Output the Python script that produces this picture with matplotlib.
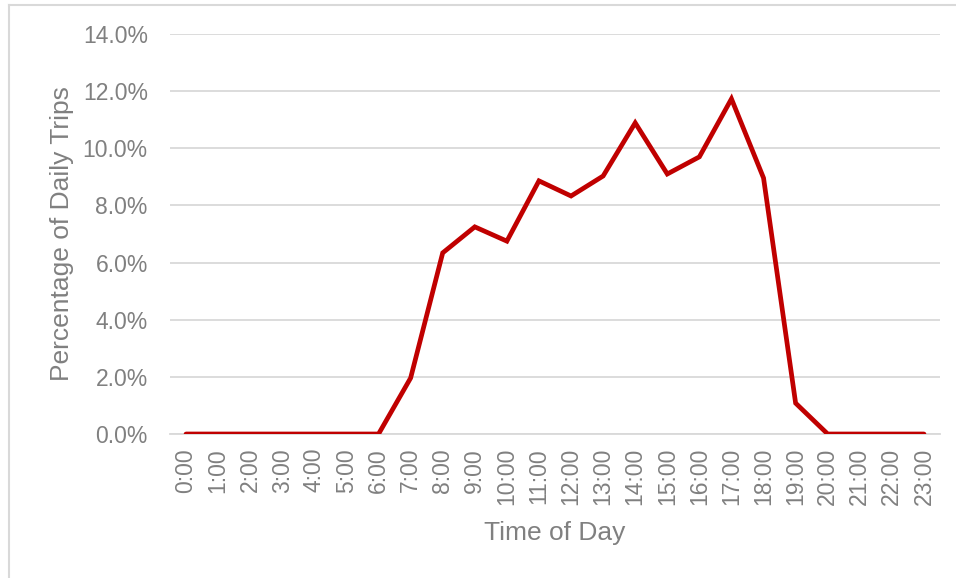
import matplotlib
matplotlib.use("Agg")
import matplotlib.pyplot as plt
from matplotlib.lines import Line2D
from matplotlib.ticker import FuncFormatter

# Share of daily trips by hour of day
hours = ["0:00", "1:00", "2:00", "3:00", "4:00", "5:00", "6:00", "7:00",
         "8:00", "9:00", "10:00", "11:00", "12:00", "13:00", "14:00", "15:00",
         "16:00", "17:00", "18:00", "19:00", "20:00", "21:00", "22:00", "23:00"]
trip_pct = [0.0, 0.0, 0.0, 0.0, 0.0, 0.0, 0.0, 1.96,
            6.34, 7.25, 6.75, 8.86, 8.33, 9.03, 10.89, 9.10,
            9.70, 11.73, 8.96, 1.08, 0.0, 0.0, 0.0, 0.0]
y_ticks = [0, 2, 4, 6, 8, 10, 12, 14]

grey = "#808080"
grid = "#d9d9d9"

plt.rcParams["font.family"] = ["Liberation Sans", "DejaVu Sans"]

fig = plt.figure(figsize=(9.56, 5.78), dpi=100)
ax = fig.add_axes([170 / 956, 1 - 434 / 578, 770 / 956, 400 / 578])

x = list(range(len(hours)))
ax.plot(x, trip_pct, color="#c00000", linewidth=3.4,
        solid_capstyle="round", solid_joinstyle="miter", zorder=3)

ax.set_xlim(-0.5, len(hours) - 0.5)
ax.set_ylim(0, 14)
ax.set_yticks(y_ticks)
ax.yaxis.set_major_formatter(FuncFormatter(lambda v, p: "%.1f%%" % v))
ax.set_xticks(x)
ax.set_xticklabels(hours, rotation=90)

ax.grid(axis="y", color=grid, linewidth=1.3)
ax.set_axisbelow(True)
for s in ["top", "right", "left"]:
    ax.spines[s].set_visible(False)
ax.spines["bottom"].set_color(grid)
ax.spines["bottom"].set_linewidth(1.3)

ax.tick_params(axis="both", length=0, colors=grey, labelsize=16.5)
ax.tick_params(axis="y", pad=16)
ax.tick_params(axis="x", pad=10)

ax.set_ylabel("Percentage of Daily Trips", fontsize=19, color=grey, labelpad=6)
ax.set_xlabel("Time of Day", fontsize=19, color=grey, labelpad=11)

# light frame on top and left edge
fig.add_artist(Line2D([8.5 / 956, 8.5 / 956], [0, 1 - 5 / 578],
                      transform=fig.transFigure, color=grid, linewidth=1.5))
fig.add_artist(Line2D([8.5 / 956, 1], [1 - 5 / 578, 1 - 5 / 578],
                      transform=fig.transFigure, color=grid, linewidth=1.5))

fig.savefig("out.png", dpi=100)
